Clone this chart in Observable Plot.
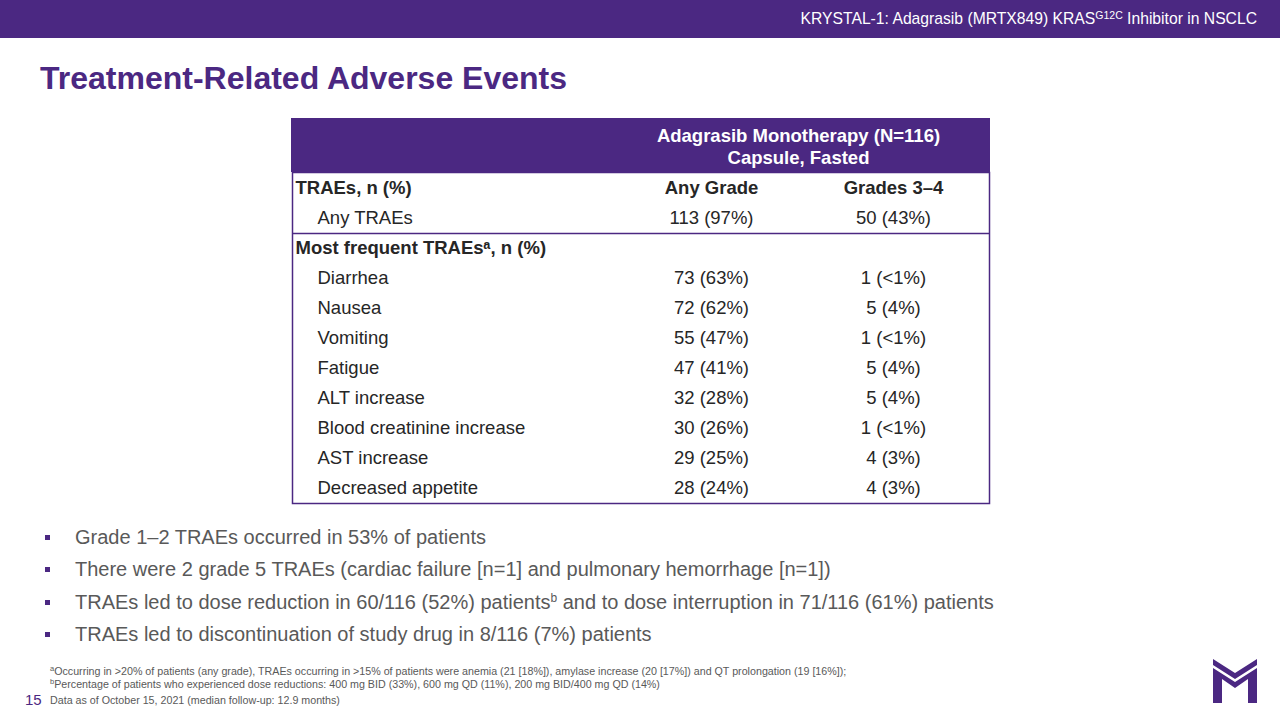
<!DOCTYPE html>
<html><head><meta charset="utf-8">
<script src="https://cdn.jsdelivr.net/npm/d3@7"></script>
<script src="https://cdn.jsdelivr.net/npm/@observablehq/plot@0.6"></script>
<style>
html,body{margin:0;padding:0;}
body{width:1280px;height:720px;position:relative;overflow:hidden;background:#fff;font-family:"Liberation Sans",Arial,sans-serif;}
#topbar{position:absolute;left:0;top:0;width:1280px;height:38px;background:#4B2882;}
#topbar span{position:absolute;right:23px;top:10px;color:#fff;font-size:15.7px;white-space:nowrap;}
#topbar sup{font-size:10.5px;vertical-align:5px;line-height:0;}
#title{position:absolute;left:40px;top:60px;font-size:32px;font-weight:bold;color:#4B2882;white-space:nowrap;}
#tableHead{position:absolute;left:291px;top:118px;}
#tableBody{position:absolute;left:291px;top:171px;}
#bullets{position:absolute;left:45px;top:521px;margin:0;padding:0;list-style:none;font-size:20px;line-height:32.3px;color:#595959;}
#bullets li{position:relative;padding-left:30px;white-space:nowrap;}
#bullets li::before{content:"";position:absolute;left:0;top:14px;width:5px;height:5px;background:#4B2882;}
#bullets sup{font-size:12px;vertical-align:7px;line-height:0;}
#foot{position:absolute;left:50px;top:665px;font-size:10.7px;line-height:12.5px;color:#595959;white-space:nowrap;}
#foot sup{font-size:7.5px;vertical-align:4px;line-height:0;}
#date{position:absolute;left:50px;top:694px;font-size:10.7px;color:#595959;white-space:nowrap;}
#pagenum{position:absolute;left:25px;top:691px;font-size:15px;color:#4B2882;}
#logo{position:absolute;left:1205px;top:652px;}
</style>
</head><body>
<div id="topbar"><span>KRYSTAL-1: Adagrasib (MRTX849) KRAS<sup>G12C</sup> Inhibitor in NSCLC</span></div>
<div id="title">Treatment-Related Adverse Events</div>
<div id="tableHead"></div>
<div id="tableBody"></div>
<ul id="bullets">
<li>Grade 1–2 TRAEs occurred in 53% of patients</li>
<li>There were 2 grade 5 TRAEs (cardiac failure [n=1] and pulmonary hemorrhage [n=1])</li>
<li>TRAEs led to dose reduction in 60/116 (52%) patients<sup>b</sup> and to dose interruption in 71/116 (61%) patients</li>
<li>TRAEs led to discontinuation of study drug in 8/116 (7%) patients</li>
</ul>
<div id="foot"><sup>a</sup>Occurring in &gt;20% of patients (any grade), TRAEs occurring in &gt;15% of patients were anemia (21 [18%]), amylase increase (20 [17%]) and QT prolongation (19 [16%]);<br><sup>b</sup>Percentage of patients who experienced dose reductions: 400 mg BID (33%), 600 mg QD (11%), 200 mg BID/400 mg QD (14%)</div>
<div id="pagenum">15</div>
<div id="date">Data as of October 15, 2021 (median follow-up: 12.9 months)</div>
<svg id="logo" width="60" height="56" viewBox="1205 652 60 56">
<polygon fill="#4B2882" points="1213,659 1235,673 1257,659 1257,665 1235,679 1213,665"/>
<polygon fill="#4B2882" points="1213,668 1235,682 1257,668 1257,703 1248,703 1248,679 1235,688 1222,679 1222,703 1213,703"/>
</svg>
<script>
// ---- data ----
const headerGroup = "Adagrasib Monotherapy (N=116)\nCapsule, Fasted";
const columnLabels = ["Any Grade", "Grades 3–4"];
const sectionHeads = ["TRAEs, n (%)", "Most frequent TRAEsᵃ, n (%)"];
const rowLabels = ["TRAEs, n (%)", "Any TRAEs", "Most frequent TRAEsᵃ, n (%)", "Diarrhea", "Nausea", "Vomiting", "Fatigue", "ALT increase", "Blood creatinine increase", "AST increase", "Decreased appetite"];
const itemLabels = ["Any TRAEs", "Diarrhea", "Nausea", "Vomiting", "Fatigue", "ALT increase", "Blood creatinine increase", "AST increase", "Decreased appetite"];
const anyGrade = ["113 (97%)", "73 (63%)", "72 (62%)", "55 (47%)", "47 (41%)", "32 (28%)", "30 (26%)", "29 (25%)", "28 (24%)"];
const grades34 = ["50 (43%)", "1 (<1%)", "5 (4%)", "1 (<1%)", "5 (4%)", "5 (4%)", "1 (<1%)", "4 (3%)", "4 (3%)"];

const items = itemLabels.map((label, i) => ({label, any: anyGrade[i], g34: grades34[i]}));
const purple = "#4B2882";
const ink = "#262626";
const font = "Liberation Sans, Arial, sans-serif";

// ---- header ----
const head = Plot.plot({
  width: 699, height: 54, margin: 0,
  x: {type: "band", domain: ["", headerGroup], range: [-39, 689], padding: 0, axis: null},
  style: {fontFamily: font, fontSize: "18.5px", background: "none"},
  marks: [
    Plot.frame({fill: purple, stroke: purple}),
    Plot.text([headerGroup], {x: d => d, text: d => d, frameAnchor: "middle", lineHeight: 1.2, fill: "white", fontWeight: "bold"})
  ]
});
document.getElementById("tableHead").append(head);

// ---- body ----
const body = Plot.plot({
  width: 699, height: 334, marginTop: 1, marginBottom: 2, marginLeft: 1, marginRight: 1,
  x: {type: "band", domain: ["", ...columnLabels], range: [147, 693], padding: 0, axis: null},
  y: {type: "band", domain: rowLabels, padding: 0, axis: null},
  style: {fontFamily: font, fontSize: "18.5px", color: ink, background: "none", overflow: "visible"},
  marks: [
    Plot.frame({stroke: purple, strokeWidth: 1.5}),
    Plot.ruleY([sectionHeads[1]], {y: d => d, dy: -15, stroke: purple, strokeWidth: 1.5}),
    Plot.text(sectionHeads, {y: d => d, text: d => d, frameAnchor: "left", textAnchor: "start", dx: 3, fontWeight: "bold", fill: ink}),
    Plot.text(items, {y: "label", text: "label", frameAnchor: "left", textAnchor: "start", dx: 25, fill: ink}),
    Plot.text(columnLabels, {x: d => d, y: () => sectionHeads[0], text: d => d, fontWeight: "bold", fill: ink}),
    Plot.text(items, {x: () => columnLabels[0], y: "label", text: "any", fill: ink}),
    Plot.text(items, {x: () => columnLabels[1], y: "label", text: "g34", fill: ink})
  ]
});
document.getElementById("tableBody").append(body);
</script>
</body></html>
